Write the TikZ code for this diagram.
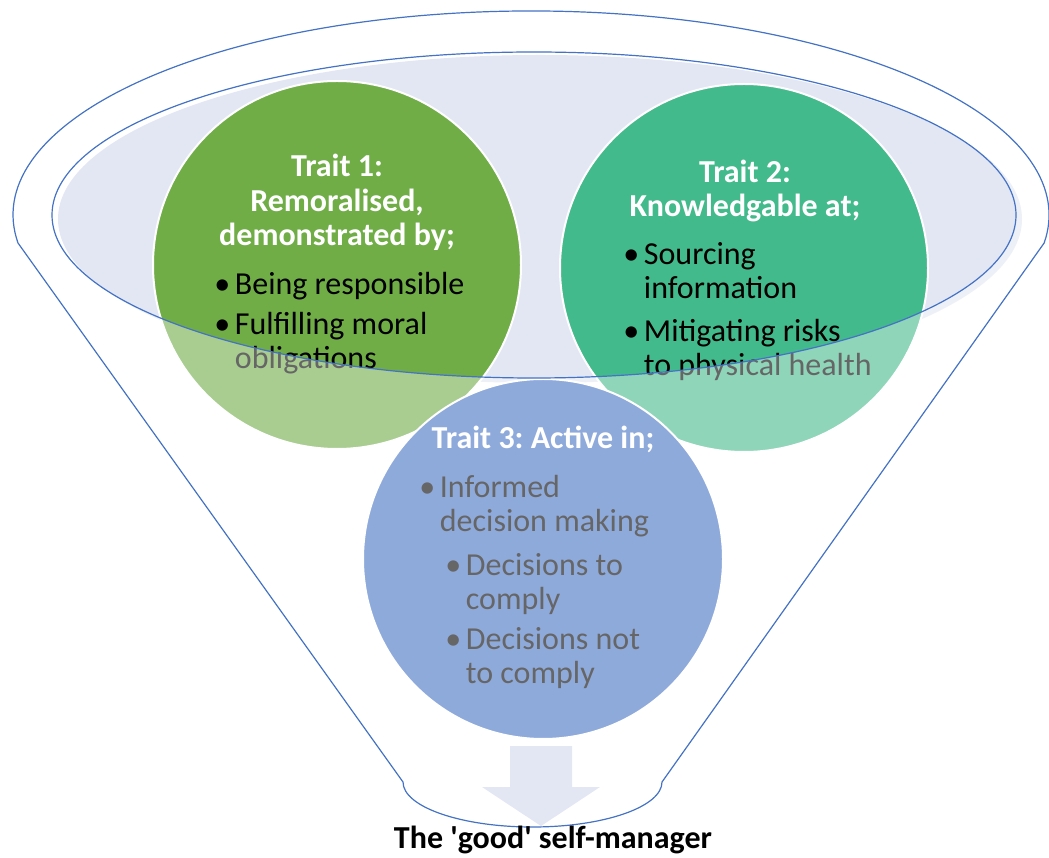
\documentclass[tikz,border=0pt]{standalone}
\usepackage{fontspec}
\setmainfont{Carlito}
\usetikzlibrary{shapes,arrows,positioning,calc}
\usepackage{xcolor}
\definecolor{traitgreen}{RGB}{112,173,71}
\definecolor{traitteal}{RGB}{67,186,139}
\definecolor{traitblue}{RGB}{68,114,196}
\definecolor{funnelblue}{RGB}{68,114,196}
\definecolor{mouthfill}{RGB}{226,231,243}
\frenchspacing

% bullet with a hanging second line
\newcommand{\bul}[1]{\makebox[12.5pt][l]{\hspace{-3pt}\textbullet}\begin{tabular}[t]{@{}l@{}}#1\end{tabular}}

\begin{document}
\begin{tikzpicture}[x=0.75pt, y=0.75pt,
    trait/.style={circle, draw=white, line width=1.5pt, inner sep=0pt},
    title/.style={font=\fontsize{24}{26}\selectfont\bfseries, text=white, align=center, anchor=base, inner sep=0pt},
    item/.style={font=\fontsize{24}{25.5}\selectfont, anchor=base west, inner sep=0pt},
    outline/.style={draw=funnelblue, line width=0.9pt}]
    \useasboundingbox (0,0) rectangle (1049,857);

    % Mouth of the funnel
    \fill[mouthfill] (540,638) ellipse [x radius=482, y radius=164];

    % The three traits
    \node[trait, fill=traitgreen, minimum size=276pt] (t1) at (337,592) {};
    \node[trait, fill=traitteal, minimum size=276pt] (t2) at (744,589) {};
    \node[trait, fill=traitblue, minimum size=270pt] (t3) at (543,298) {};

    % Trait 1 (base = last line)
    \node[title] (t1head) at (337,611) {Trait 1:\\Remoralised,\\demonstrated by;};
    \node[item] (t1a) at (218,562) {\bul{Being responsible}};
    \node[item] (t1b) at (218,522) {\bul{Fulfilling moral\\obligations}};

    % Trait 2
    \node[title] (t2head) at (745,640) {Trait 2:\\Knowledgable at;};
    \node[item] (t2a) at (627,592) {\bul{Sourcing\\information}};
    \node[item] (t2b) at (627,515) {\bul{Mitigating risks\\to physical health}};

    % Trait 3
    \node[title] (t3head) at (543,408) {Trait 3: Active in;};
    \node[item] (t3a) at (423,359) {\bul{Informed\\decision making}};
    \node[item] (t3b) at (449,281) {\bul{Decisions to\\comply}};
    \node[item] (t3c) at (449,207) {\bul{Decisions not\\to comply}};

    % Everything below the rim is faded
    \fill[white, fill opacity=0.4, even odd rule] (0,0) rectangle (1049,857)
        (534,642) ellipse [x radius=482, y radius=163];
    \draw[outline] (534,642) ellipse [x radius=482, y radius=163];

    % Output arrow
    \fill[mouthfill] (510,111) -- (572,111) -- (572,70) -- (600,70) -- (541,31)
        -- (482,70) -- (510,70) -- cycle;

    % Funnel body
    \draw[outline] (403,75) -- (18,614)
        arc[start angle=187.9, end angle=-7.9, x radius=518, y radius=204]
        -- (662,75)
        arc[start angle=0, end angle=-180, x radius=129.5, y radius=45] -- cycle;

    \node[font=\fontsize{24}{26}\selectfont\bfseries, anchor=base, inner sep=0pt] (result) at (553,9)
        {The \textquotesingle good\textquotesingle\ self-manager};
\end{tikzpicture}
\end{document}
